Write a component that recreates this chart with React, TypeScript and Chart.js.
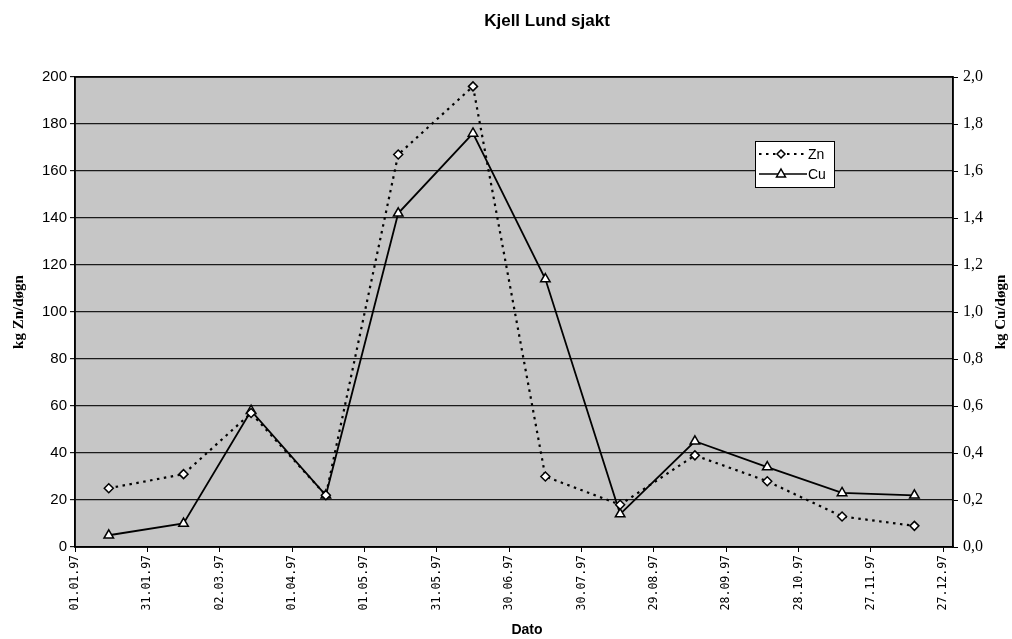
import React, { useEffect, useRef } from 'react';
import { Chart, registerables } from 'chart.js';

Chart.register(...registerables);

const chartTitle = 'Kjell Lund sjakt';
const xTitle = 'Dato';
const yLeftTitle = 'kg Zn/døgn';
const yRightTitle = 'kg Cu/døgn';
const seriesNames = ['Zn', 'Cu'];

const sampleDates = ['15.01.97', '15.02.97', '15.03.97', '15.04.97', '15.05.97', '15.06.97', '15.07.97', '15.08.97', '15.09.97', '15.10.97', '15.11.97', '15.12.97'];
const znValues = [25, 31, 57, 22, 167, 196, 30, 18, 39, 28, 13, 9];
const cuValues = [0.05, 0.10, 0.58, 0.22, 1.42, 1.76, 1.14, 0.14, 0.45, 0.34, 0.23, 0.22];

const xTickLabels = ['01.01.97', '31.01.97', '02.03.97', '01.04.97', '01.05.97', '31.05.97', '30.06.97', '30.07.97', '29.08.97', '28.09.97', '28.10.97', '27.11.97', '27.12.97'];
const xStart = '01.01.97';
const xEnd = '31.12.97';

const yLeftMax = 200;
const yLeftStep = 20;
const yRightMax = 2.0;
const yRightStep = 0.2;

function parseDay(s: string): number {
  const [d, m, y] = s.split('.').map(Number);
  const base = Date.UTC(1997, 0, 1);
  return Math.round((Date.UTC(1900 + y, m - 1, d) - base) / 86400000);
}

const tickMap = new Map<number, string>(xTickLabels.map((l) => [parseDay(l), l]));

function drawDiamond(ctx: CanvasRenderingContext2D, x: number, y: number, r: number) {
  ctx.beginPath();
  ctx.moveTo(x, y - r);
  ctx.lineTo(x + r, y);
  ctx.lineTo(x, y + r);
  ctx.lineTo(x - r, y);
  ctx.closePath();
  ctx.fillStyle = '#ffffff';
  ctx.fill();
  ctx.lineWidth = 1.5;
  ctx.strokeStyle = '#000';
  ctx.stroke();
}

function drawTriangle(ctx: CanvasRenderingContext2D, x: number, y: number, r: number) {
  ctx.beginPath();
  ctx.moveTo(x, y - r);
  ctx.lineTo(x + r * 0.9, y + r * 0.6);
  ctx.lineTo(x - r * 0.9, y + r * 0.6);
  ctx.closePath();
  ctx.fillStyle = '#ffffff';
  ctx.fill();
  ctx.lineWidth = 1.5;
  ctx.strokeStyle = '#000';
  ctx.stroke();
}

const decorPlugin = {
  id: 'decor',
  beforeDraw(chart: any) {
    const { ctx, chartArea } = chart;
    ctx.save();
    ctx.fillStyle = '#ffffff';
    ctx.fillRect(0, 0, chart.width, chart.height);
    ctx.fillStyle = '#c6c6c6';
    ctx.fillRect(chartArea.left, chartArea.top, chartArea.right - chartArea.left, chartArea.bottom - chartArea.top);
    ctx.restore();
  },
  afterDraw(chart: any) {
    const { ctx, chartArea } = chart;
    ctx.save();
    ctx.strokeStyle = '#000';
    ctx.lineWidth = 1.5;
    ctx.strokeRect(chartArea.left, chartArea.top, chartArea.right - chartArea.left, chartArea.bottom - chartArea.top);

    ctx.fillStyle = '#000';
    ctx.textAlign = 'center';
    ctx.textBaseline = 'middle';
    ctx.font = 'bold 17px "Liberation Sans", Arial, sans-serif';
    ctx.fillText(chartTitle, 547, 21);
    ctx.font = 'bold 14px "Liberation Sans", Arial, sans-serif';
    ctx.fillText(xTitle, 527, 630);

    const midY = (chartArea.top + chartArea.bottom) / 2;
    ctx.font = 'bold 15px "Liberation Serif", "Times New Roman", serif';
    ctx.save();
    ctx.translate(19, midY);
    ctx.rotate(-Math.PI / 2);
    ctx.fillText(yLeftTitle, 0, 0);
    ctx.restore();
    ctx.save();
    ctx.translate(1001, midY);
    ctx.rotate(-Math.PI / 2);
    ctx.fillText(yRightTitle, 0, 0);
    ctx.restore();

    const lx = 755, ly = 141, lw = 79, lh = 46;
    ctx.fillStyle = '#ffffff';
    ctx.fillRect(lx, ly, lw, lh);
    ctx.lineWidth = 1;
    ctx.strokeStyle = '#000';
    ctx.strokeRect(lx + 0.5, ly + 0.5, lw, lh);

    const row1 = ly + 13, row2 = ly + 33;
    ctx.lineWidth = 2;
    ctx.setLineDash([2.5, 4.5]);
    ctx.beginPath();
    ctx.moveTo(lx + 4, row1);
    ctx.lineTo(lx + 50, row1);
    ctx.stroke();
    ctx.setLineDash([]);
    drawDiamond(ctx, lx + 26, row1, 4);
    ctx.lineWidth = 1.5;
    ctx.beginPath();
    ctx.moveTo(lx + 4, row2);
    ctx.lineTo(lx + 52, row2);
    ctx.stroke();
    drawTriangle(ctx, lx + 26, row2, 5);

    ctx.fillStyle = '#000';
    ctx.textAlign = 'left';
    ctx.font = '14px "Liberation Sans", Arial, sans-serif';
    ctx.fillText(seriesNames[0], lx + 53, row1 + 1);
    ctx.fillText(seriesNames[1], lx + 53, row2 + 1);
    ctx.restore();
  },
};

export default function App() {
  const canvasRef = useRef<HTMLCanvasElement | null>(null);

  useEffect(() => {
    if (!canvasRef.current) return;
    const xs = sampleDates.map(parseDay);
    const chart = new Chart(canvasRef.current, {
      type: 'line',
      data: {
        datasets: [
          {
            label: seriesNames[0],
            data: xs.map((x, i) => ({ x, y: znValues[i] })),
            yAxisID: 'y',
            borderColor: '#000',
            borderWidth: 2.2,
            borderDash: [2.5, 4.5],
            pointStyle: 'rectRot',
            pointRadius: 4.5,
            pointBackgroundColor: '#ffffff',
            pointBorderColor: '#000',
            pointBorderWidth: 1.5,
            tension: 0,
          },
          {
            label: seriesNames[1],
            data: xs.map((x, i) => ({ x, y: cuValues[i] })),
            yAxisID: 'y1',
            borderColor: '#000',
            borderWidth: 1.8,
            pointStyle: 'triangle',
            pointRadius: 5.5,
            pointBackgroundColor: '#ffffff',
            pointBorderColor: '#000',
            pointBorderWidth: 1.5,
            tension: 0,
          },
        ],
      },
      options: {
        animation: false,
        responsive: false,
        maintainAspectRatio: false,
        devicePixelRatio: 1,
        layout: { padding: { top: 77, left: 0, right: 0, bottom: 0 } },
        plugins: {
          legend: { display: false },
          title: { display: false },
          tooltip: { enabled: false },
        },
        scales: {
          x: {
            type: 'linear',
            min: parseDay(xStart),
            max: parseDay(xEnd),
            afterBuildTicks: (scale: any) => {
              scale.ticks = xTickLabels.map((l) => ({ value: parseDay(l) }));
            },
            afterFit: (scale: any) => {
              scale.height = 92;
            },
            ticks: {
              autoSkip: false,
              maxRotation: 90,
              minRotation: 90,
              padding: 3,
              color: '#000',
              font: { family: '"DejaVu Sans Mono", "Liberation Mono", monospace', size: 11.5 },
              callback: (v: any) => tickMap.get(Math.round(Number(v))) ?? '',
            },
            grid: { drawOnChartArea: false, drawTicks: true, tickLength: 5, color: '#000' },
            border: { display: true, color: '#000', width: 1.5 },
          },
          y: {
            position: 'left',
            min: 0,
            max: yLeftMax,
            afterFit: (scale: any) => {
              scale.width = 75;
            },
            ticks: {
              stepSize: yLeftStep,
              padding: 3,
              color: '#000',
              font: { family: '"Liberation Sans", Arial, sans-serif', size: 15 },
            },
            grid: { color: '#1a1a1a', lineWidth: 1.2, tickLength: 5, drawTicks: true },
            border: { display: true, color: '#000', width: 1.5 },
          },
          y1: {
            position: 'right',
            min: 0,
            max: yRightMax,
            afterFit: (scale: any) => {
              scale.width = 59;
            },
            ticks: {
              stepSize: yRightStep,
              padding: 5,
              color: '#000',
              font: { family: '"Liberation Serif", "Times New Roman", serif', size: 16 },
              callback: (v: any) => Number(v).toFixed(1).replace('.', ','),
            },
            grid: { drawOnChartArea: false, drawTicks: true, tickLength: 5, color: '#000' },
            border: { display: true, color: '#000', width: 1.5 },
          },
        },
      },
      plugins: [decorPlugin],
    });
    return () => chart.destroy();
  }, []);

  return (
    <div style={{ position: 'absolute', left: 0, top: 0, width: 1012, height: 639 }}>
      <canvas ref={canvasRef} width={1012} height={639} style={{ width: 1012, height: 639, display: 'block' }} />
    </div>
  );
}
